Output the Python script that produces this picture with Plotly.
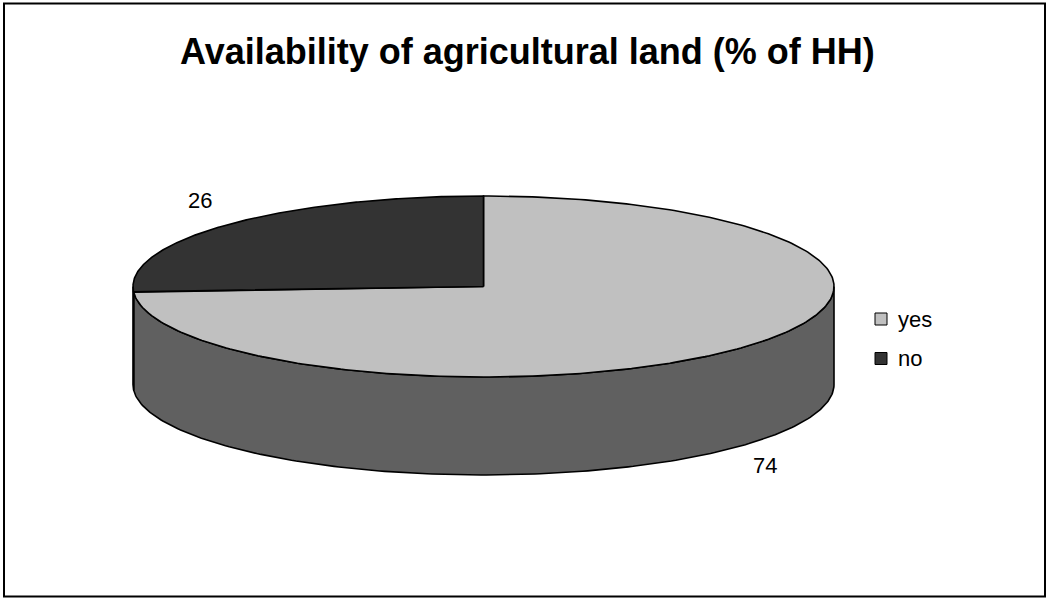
import numpy as np
import plotly.graph_objects as go

# Share of households with access to agricultural land
categories = ["yes", "no"]
values = [74, 26]

top_colors = ["#C0C0C0", "#333333"]
side_colors = ["#606060", "#262626"]

W, H = 1046, 598
# Pie geometry in pixel space (y grows downward)
CX, CY = 483.5, 286.5
RX, RY = 350.5, 90.5
DEPTH = 98

FONT = "Liberation Sans, Arial, sans-serif"


def rim(theta_deg, dy=0.0):
    """Point on the pie rim for an angle measured clockwise from 12 o'clock."""
    t = np.radians(theta_deg)
    return CX + RX * np.sin(t), CY - RY * np.cos(t) + dy


fig = go.Figure()

total = float(sum(values))
bounds = np.concatenate([[0.0], np.cumsum(values) / total * 360.0])

# Visible front walls (angles between 90 and 270 degrees face the viewer)
for i in range(len(values)):
    a0, a1 = max(bounds[i], 90.0), min(bounds[i + 1], 270.0)
    if a1 <= a0:
        continue
    th = np.linspace(a0, a1, 200)
    ux, uy = rim(th)
    lx, ly = rim(th[::-1], DEPTH)
    xs = np.concatenate([ux, lx, ux[:1]])
    ys = np.concatenate([uy, ly, uy[:1]])
    fig.add_trace(go.Scatter(
        x=xs, y=ys, mode="lines", fill="toself",
        fillcolor=side_colors[i], line=dict(color="black", width=1.6),
        hoverinfo="skip", showlegend=False))

# Top faces of the slices
for i in range(len(values)):
    th = np.linspace(bounds[i], bounds[i + 1], 300)
    ex, ey = rim(th)
    xs = np.concatenate([[CX], ex, [CX]])
    ys = np.concatenate([[CY], ey, [CY]])
    fig.add_trace(go.Scatter(
        x=xs, y=ys, mode="lines", fill="toself",
        fillcolor=top_colors[i], line=dict(color="black", width=1.6),
        hoverinfo="skip", showlegend=False))

# Legend: swatch plus label per category
LEG_X, LEG_Y0, LEG_STEP = 881, 319, 39.5
for i, name in enumerate(categories):
    yy = LEG_Y0 + i * LEG_STEP
    fig.add_trace(go.Scatter(
        x=[LEG_X], y=[yy], mode="markers", name=name, showlegend=False,
        hoverinfo="skip",
        marker=dict(symbol="square", size=12, color=top_colors[i],
                    line=dict(color="black", width=1))))
    fig.add_annotation(x=LEG_X + 15, y=yy, text=name, showarrow=False,
                       xanchor="left", yanchor="middle",
                       font=dict(family=FONT, size=22, color="black"))

# Value labels outside the slices
label_pos = {"no": (200, 200), "yes": (765, 465)}
for name, v in zip(categories, values):
    lx, ly = label_pos[name]
    fig.add_annotation(x=lx, y=ly, text=f"{v}", showarrow=False,
                       font=dict(family=FONT, size=22, color="black"),
                       xanchor="center", yanchor="middle")

# Title
fig.add_annotation(x=527.5, y=51, text="<b>Availability of agricultural land (% of HH)</b>",
                   showarrow=False, xanchor="center", yanchor="middle",
                   font=dict(family=FONT, size=36, color="black"))

# Chart frame
fig.add_shape(type="rect", x0=4, y0=3.5, x1=1045, y1=596.5,
              line=dict(color="black", width=2), layer="above")

fig.update_layout(
    width=W, height=H, autosize=False,
    margin=dict(l=0, r=0, t=0, b=0),
    paper_bgcolor="white", plot_bgcolor="white",
    xaxis=dict(range=[0, W], visible=False, fixedrange=True),
    yaxis=dict(range=[H, 0], visible=False, fixedrange=True),
    showlegend=False,
)

fig.write_html("out.html")
